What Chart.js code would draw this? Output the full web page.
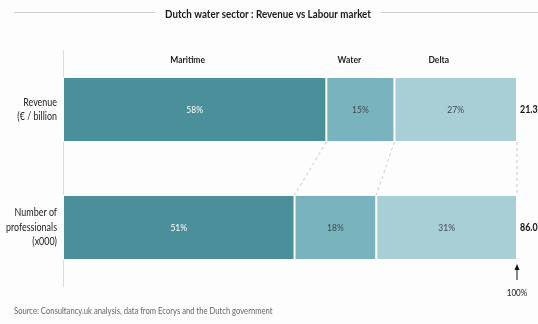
<!DOCTYPE html>
<html>
<head>
<meta charset="utf-8">
<script src="https://cdn.jsdelivr.net/npm/chart.js@4/dist/chart.umd.min.js"></script>
<style>
  html, body { margin: 0; padding: 0; background: #fdfdfd; }
  #wrap { width: 538px; height: 324px; position: relative; }
</style>
</head>
<body>
<div id="wrap"><canvas id="chart" width="538" height="324"></canvas></div>
<script>
// Data
const rows = [["Revenue", "(€ / billion"], ["Number of", "professionals", "(x000)"]];
const segments = ["Maritime", "Water", "Delta"];
const maritime = [58, 51];
const water = [15, 18];
const delta = [27, 31];
const totals = ["21.3", "86.0"];

const colors = ["#4a8f9a", "#79b3bd", "#a9cfd6"];
const labelColors = ["#ffffff", "#3d4a4d", "#3d4a4d"];
const headerShift = [-7, -11, -17];
const FONT = "Lato, 'DejaVu Sans Condensed', sans-serif";
const SX = 0.85; // squeeze text a little to look like the narrow original face

// draw a text horizontally squeezed
function txt(ctx, s, x, y, size, bold, color, align) {
    ctx.save();
    ctx.font = (bold ? "bold " : "") + size + "px " + FONT;
    ctx.fillStyle = color;
    ctx.textAlign = align || "left";
    ctx.textBaseline = "middle";
    ctx.translate(x, y);
    ctx.scale(SX, 1);
    ctx.fillText(s, 0, 0);
    const w = ctx.measureText(s).width * SX;
    ctx.restore();
    return w;
}

const decorations = {
    id: "decorations",
    afterDatasetsDraw(chart) {
        const ctx = chart.ctx;
        const area = chart.chartArea;
        const x = chart.scales.x;
        const y = chart.scales.y;
        ctx.save();

        // dashed connectors between the two bars
        const top = chart.getDatasetMeta(0).data[0];
        const bottom = chart.getDatasetMeta(0).data[1];
        const topBottomEdge = top.y + top.height / 2;
        const lowTopEdge = bottom.y - bottom.height / 2;
        ctx.strokeStyle = "#cacaca";
        ctx.lineWidth = 1;
        ctx.setLineDash([3, 3]);
        let cumA = 0, cumB = 0;
        chart.data.datasets.forEach(ds => {
            cumA += ds.data[0];
            cumB += ds.data[1];
            ctx.beginPath();
            ctx.moveTo(x.getPixelForValue(cumA), topBottomEdge);
            ctx.lineTo(x.getPixelForValue(cumB), lowTopEdge);
            ctx.stroke();
        });
        ctx.setLineDash([]);

        // row labels left of the axis
        rows.forEach((lines, j) => {
            const cy = y.getPixelForTick(j);
            const lh = 14.5;
            const y0 = cy - (lines.length - 1) * lh / 2;
            lines.forEach((l, k) => txt(ctx, l, 57, y0 + k * lh, 10.5, false, "#222", "right"));
        });

        // percentage labels inside segments
        chart.data.datasets.forEach((ds, i) => {
            chart.getDatasetMeta(i).data.forEach((bar, j) => {
                txt(ctx, ds.data[j] + "%", (bar.x + bar.base) / 2, bar.y, 10, false, labelColors[i], "center");
            });
        });

        // segment headers above the first bar
        segments.forEach((name, i) => {
            const bar = chart.getDatasetMeta(i).data[0];
            txt(ctx, name, (bar.x + bar.base) / 2 + headerShift[i], 60, 10, true, "#222", "center");
        });

        // totals at the right
        totals.forEach((t, j) => {
            const bar = chart.getDatasetMeta(0).data[j];
            txt(ctx, t, area.right + 3, bar.y, 10.5, true, "#111", "left");
        });

        // arrow pointing to 100%
        const ax = x.getPixelForValue(100);
        ctx.strokeStyle = "#111";
        ctx.fillStyle = "#111";
        ctx.beginPath();
        ctx.moveTo(ax, 280);
        ctx.lineTo(ax, 268);
        ctx.stroke();
        ctx.beginPath();
        ctx.moveTo(ax, 264);
        ctx.lineTo(ax - 2.5, 270);
        ctx.lineTo(ax + 2.5, 270);
        ctx.closePath();
        ctx.fill();
        txt(ctx, "100%", ax, 293, 9.5, false, "#222", "center");

        // title with rules on both sides
        const title = "Dutch water sector : Revenue vs Labour market";
        const tx = 268;
        const tw = txt(ctx, title, tx, 14, 11.5, true, "#1a1a1a", "center");
        ctx.strokeStyle = "#d0d0d0";
        ctx.beginPath();
        ctx.moveTo(14, 12.5);
        ctx.lineTo(tx - tw / 2 - 10, 12.5);
        ctx.moveTo(tx + tw / 2 + 10, 12.5);
        ctx.lineTo(538, 12.5);
        ctx.stroke();

        // source line
        txt(ctx, "Source: Consultancy.uk analysis, data from Ecorys and the Dutch government", 14, 311, 9, false, "#666", "left");

        ctx.restore();
    }
};

new Chart(document.getElementById("chart"), {
    type: "bar",
    data: {
        labels: rows,
        datasets: [maritime, water, delta].map((d, i) => ({
            label: segments[i],
            data: d,
            backgroundColor: colors[i],
            borderColor: "#ffffff",
            borderWidth: 1,
            borderSkipped: false,
            barPercentage: 0.55,
            categoryPercentage: 1
        }))
    },
    options: {
        indexAxis: "y",
        responsive: false,
        animation: false,
        layout: { padding: { left: 0, right: 21, top: 50.5, bottom: 37.5 } },
        plugins: { legend: { display: false }, tooltip: { enabled: false } },
        scales: {
            x: { stacked: true, min: 0, max: 100, display: false },
            y: {
                stacked: true,
                grid: { display: false, drawTicks: false },
                border: { display: true, color: "#dcdcdc" },
                ticks: { display: false },
                afterFit(scale) { scale.width = 63; }
            }
        }
    },
    plugins: [decorations]
});
</script>
</body>
</html>
